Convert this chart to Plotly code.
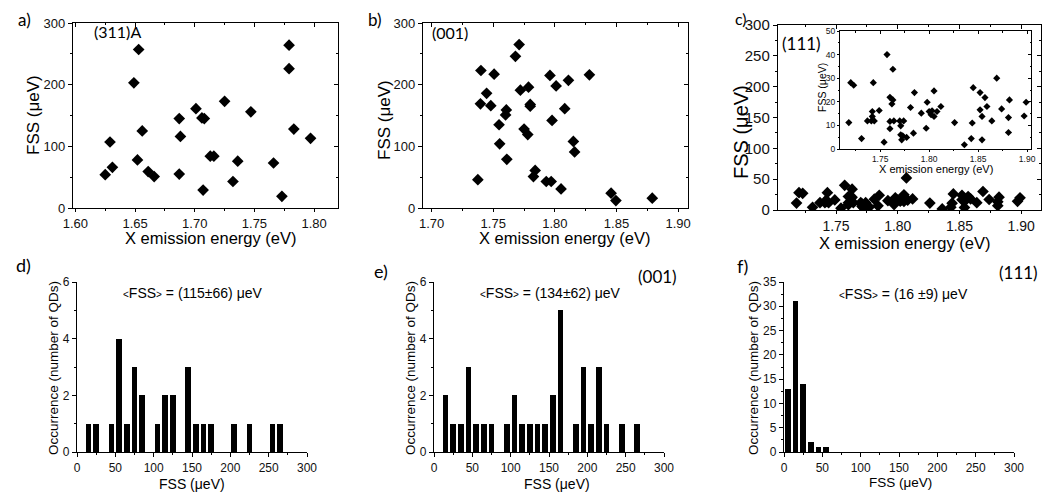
import plotly.graph_objects as go

# ---------------- data ----------------
a_energy = [1.625, 1.629, 1.631, 1.649, 1.653, 1.652, 1.656, 1.661, 1.666, 1.687, 1.688, 1.687, 1.701, 1.706,
            1.708, 1.707, 1.713, 1.716, 1.725, 1.732, 1.736, 1.747, 1.766, 1.773, 1.779, 1.779, 1.783, 1.797]
a_fss = [54, 107, 66, 203, 257, 78, 125, 59, 51, 145, 116, 55, 161, 146,
         145, 29, 84, 84, 173, 43, 76, 156, 73, 19, 264, 226, 128, 113]

b_energy = [1.7375, 1.740, 1.7396, 1.7446, 1.748, 1.7507, 1.7547, 1.7552, 1.7606, 1.760, 1.761, 1.768,
            1.771, 1.772, 1.775, 1.778, 1.7786, 1.780, 1.780, 1.7826, 1.784, 1.793, 1.796, 1.797,
            1.7977, 1.801, 1.805, 1.808, 1.811, 1.815, 1.816, 1.828, 1.8456, 1.8495, 1.879]
b_fss = [46, 223, 169, 186, 166, 217, 135, 104, 159, 151, 79, 246,
         265, 191, 128, 119, 196, 168, 165, 51, 61, 43, 215, 43,
         142, 198, 31, 161, 207, 108, 91, 216, 24, 12, 16]

c_energy = [1.718, 1.720, 1.723, 1.731, 1.737, 1.742, 1.742, 1.741, 1.743, 1.744, 1.749, 1.754, 1.757,
            1.760, 1.760, 1.760, 1.762, 1.763, 1.763, 1.764, 1.770, 1.771, 1.773, 1.771, 1.772, 1.774,
            1.777, 1.781, 1.784, 1.785, 1.792, 1.797, 1.798, 1.800, 1.802, 1.803, 1.805, 1.805, 1.808,
            1.812, 1.826, 1.836, 1.843, 1.844, 1.845, 1.852, 1.852, 1.854, 1.854, 1.857, 1.859, 1.864,
            1.869, 1.874, 1.881, 1.881, 1.882, 1.897, 1.899, 1.807]
c_fss = [11.2, 28.1, 27, 4.4, 11.9, 15.9, 13.8, 11.9, 28.1, 11.9, 16.3, 2.9, 40,
         11.7, 8.6, 21.9, 19.1, 20.8, 33.8, 11.9, 11.9, 9.8, 5.6, 6.0, 3.9, 11.9,
         4.9, 17.6, 6.7, 23.9, 15.2, 8.8, 19.8, 15.9, 14.5, 16.2, 24.6, 13.8, 15.9,
         18, 11.2, 1.8, 4.4, 11, 26, 23.9, 16.6, 13.8, 3.9, 21.8, 18, 11.9,
         30, 17, 13.3, 7, 20.8, 14, 19.8, 52]

d_bins = [15, 25, 45, 55, 65, 75, 85, 105, 115, 125, 145, 155, 165, 175, 205, 225, 255, 265]
d_counts = [1, 1, 1, 4, 1, 3, 2, 1, 2, 2, 3, 1, 1, 1, 1, 1, 1, 1]
e_bins = [15, 25, 35, 45, 55, 65, 75, 95, 105, 115, 125, 135, 145, 155, 165, 185, 195, 205, 215, 225, 245, 265]
e_counts = [2, 1, 1, 3, 1, 1, 1, 1, 2, 1, 1, 1, 1, 2, 5, 1, 3, 1, 3, 1, 1, 1]
f_bins = [5, 15, 25, 35, 45, 55]
f_counts = [13, 31, 14, 2, 1, 1]

# ---------------- layout helpers ----------------
# The page body adds an 8 px offset; the figure is sized so that the
# window-pixel coordinates used below line up with the reference.
OFF = 8
W, H = 1055 - OFF, 492 - OFF
ARIAL = "Liberation Sans, Arial, sans-serif"
CALIBRI = "Lato, Open Sans, sans-serif"


def px(x):
    return (x - OFF) / W


def py(y):
    return 1 - (y - OFF) / H


def dom_x(x0, x1):
    return [px(x0), px(x1)]


def dom_y(ytop, ybot):
    return [py(ybot), py(ytop)]


fig = go.Figure()

diamond = dict(symbol="diamond", color="black", size=9, line=dict(width=0))

fig.add_trace(go.Scatter(x=a_energy, y=a_fss, mode="markers", marker=diamond, xaxis="x", yaxis="y"))
fig.add_trace(go.Scatter(x=b_energy, y=b_fss, mode="markers", marker=diamond, xaxis="x2", yaxis="y2"))
fig.add_trace(go.Scatter(x=c_energy, y=c_fss, mode="markers", marker=diamond, xaxis="x3", yaxis="y3"))
fig.add_trace(go.Scatter(x=c_energy, y=c_fss, mode="markers",
                         marker=dict(symbol="diamond", color="black", size=5.5, line=dict(width=0)),
                         xaxis="x4", yaxis="y4"))
bar_style = dict(marker=dict(color="black", line=dict(width=0)), width=7.5)
fig.add_trace(go.Bar(x=d_bins, y=d_counts, xaxis="x5", yaxis="y5", **bar_style))
fig.add_trace(go.Bar(x=e_bins, y=e_counts, xaxis="x6", yaxis="y6", **bar_style))
fig.add_trace(go.Bar(x=f_bins, y=f_counts, xaxis="x7", yaxis="y7", **bar_style))

# empty traces to register mirror-tick overlay subplots
for xa, ya in [("x8", "y"), ("x9", "y2"), ("x10", "y3"), ("x11", "y4"),
               ("x", "y8"), ("x2", "y9"), ("x3", "y10"), ("x4", "y11")]:
    fig.add_trace(go.Scatter(x=[], y=[], xaxis=xa, yaxis=ya, hoverinfo="skip"))

LW = 1.4


def main_ax(domain, rng, dtick, minor, anchor, fs, fmt=None, tick0=0):
    d = dict(domain=domain, range=rng, anchor=anchor, showline=True, linecolor="black", linewidth=LW,
             mirror=True, ticks="outside", ticklen=4, tickwidth=1, tickcolor="black",
             tick0=tick0, dtick=dtick, showgrid=False, zeroline=False,
             minor=dict(ticks="outside", ticklen=2, dtick=minor, tick0=tick0, tickcolor="black"),
             tickfont=dict(family=ARIAL, size=fs, color="#111"), ticklabelstandoff=0)
    if fmt:
        d["tickformat"] = fmt
    return d


def mirror_ax(overlay, side, rng, dtick, minor, anchor, ln=4):
    return dict(overlaying=overlay, side=side, range=rng, anchor=anchor, showline=False,
                ticks="inside", ticklen=ln, tickwidth=1, tickcolor="black", tick0=0, dtick=dtick,
                showticklabels=False, showgrid=False, zeroline=False,
                minor=dict(ticks="inside", ticklen=ln / 2, dtick=minor, tick0=0, tickcolor="black"))


ra_x, rb_x, rc_x, ri_x = [1.598, 1.820], [1.693, 1.908], [1.703, 1.916], [1.709, 1.904]
top_row_a = dom_y(23, 208)
top_row_c = dom_y(25, 210)

layout = dict(
    width=W, height=H, margin=dict(l=0, r=0, t=0, b=0, pad=0, autoexpand=False), showlegend=False,
    paper_bgcolor="white", plot_bgcolor="white", bargap=0,
    xaxis=main_ax(dom_x(73, 338), ra_x, 0.05, 0.025, "y", 13, ".2f"),
    yaxis=main_ax(top_row_a, [0, 300], 100, 50, "x", 13),
    xaxis2=main_ax(dom_x(423, 688), rb_x, 0.05, 0.025, "y2", 13, ".2f"),
    yaxis2=main_ax(top_row_a, [0, 300], 100, 50, "x2", 13),
    xaxis3=main_ax(dom_x(778, 1041), rc_x, 0.05, 0.025, "y3", 14, ".2f"),
    yaxis3=main_ax(top_row_c, [0, 300], 50, 25, "x3", 15),
    xaxis4=main_ax(dom_x(840, 1031), ri_x, 0.05, 0.025, "y4", 8.5, ".2f"),
    yaxis4=main_ax(dom_y(31, 149), [0, 50], 10, 5, "x4", 8.5),
    xaxis8=mirror_ax("x", "top", ra_x, 0.05, 0.025, "y"),
    xaxis9=mirror_ax("x2", "top", rb_x, 0.05, 0.025, "y2"),
    xaxis10=mirror_ax("x3", "top", rc_x, 0.05, 0.025, "y3"),
    xaxis11=mirror_ax("x4", "top", ri_x, 0.05, 0.025, "y4", 3),
    yaxis8=mirror_ax("y", "right", [0, 300], 100, 50, "x"),
    yaxis9=mirror_ax("y2", "right", [0, 300], 100, 50, "x2"),
    yaxis10=mirror_ax("y3", "right", [0, 300], 50, 25, "x3"),
    yaxis11=mirror_ax("y4", "right", [0, 50], 10, 5, "x4", 3),
)
for k in ["xaxis", "xaxis2", "xaxis3"]:
    layout[k]["ticklen"] = 3
for k in ["xaxis4", "yaxis4"]:
    layout[k]["ticklen"] = 2
    layout[k]["minor"]["ticklen"] = 1
    layout[k]["linewidth"] = 1


def hist_ax(domain, rng, dtick, minor, anchor):
    return dict(domain=domain, range=rng, anchor=anchor, showline=True, linecolor="black", linewidth=LW,
                mirror=False, ticks="outside", ticklen=4, tickwidth=1, tickcolor="black",
                tick0=0, dtick=dtick, showgrid=False, zeroline=False,
                minor=dict(ticks="outside", ticklen=2, dtick=minor, tick0=0, tickcolor="black"),
                tickfont=dict(family=ARIAL, size=12, color="#111"), ticklabelstandoff=0)


hist_y = dom_y(282, 452)
layout["xaxis5"] = hist_ax(dom_x(77, 307), [0, 300], 50, 25, "y5")
layout["yaxis5"] = hist_ax(hist_y, [0, 6], 2, 1, "x5")
layout["xaxis6"] = hist_ax(dom_x(434, 664), [0, 300], 50, 25, "y6")
layout["yaxis6"] = hist_ax(hist_y, [0, 6], 2, 1, "x6")
layout["xaxis7"] = hist_ax(dom_x(784, 1014), [0, 300], 50, 25, "y7")
layout["yaxis7"] = hist_ax(hist_y, [0, 35], 5, 2.5, "x7")

fig.update_layout(**layout)


def note(x, y, text, size, family=ARIAL, angle=0, xanchor="center", yanchor="middle"):
    fig.add_annotation(x=px(x), y=py(y), xref="paper", yref="paper", text=text, showarrow=False,
                       textangle=angle, xanchor=xanchor, yanchor=yanchor, borderpad=0,
                       font=dict(family=family, size=size, color="black"))


# panel letters
note(24, 8.5, "a)", 17, CALIBRI, yanchor="top")
note(375, 8.5, "b)", 17, CALIBRI, yanchor="top")
note(741, 8.5, "c)", 16, CALIBRI, yanchor="top")
note(23, 265, "d)", 18, CALIBRI)
note(381, 271, "e)", 18, CALIBRI)
note(742, 266, "f)", 18, CALIBRI)

# sample labels
note(117, 31, "(311)A", 16, CALIBRI)
note(450, 33, "(001)", 16, CALIBRI)
note(801, 43, "(111)", 17, CALIBRI)
note(657, 276, "(001)", 17, CALIBRI)
note(1018, 272, "(111)", 17, CALIBRI)

# axis titles, top row
note(211, 238, "X emission energy (eV)", 16.5)
note(565, 238, "X emission energy (eV)", 16.5)
note(905, 243, "X emission energy (eV)", 16.5)
note(33, 115, "FSS (μeV)", 17, angle=-90)
note(384, 120, "FSS (μeV)", 17, angle=-90)
note(741, 132, "FSS (μeV)", 20, angle=-90)
note(936, 168.5, "X emission energy (eV)", 11)
note(822, 88, "FSS (μeV)", 10.5, angle=-90)

# histogram titles
for xc in (53, 410, 753):
    note(xc, 368, "Occurrence (number of QDs)", 13.5, angle=-90)
note(192, 484, "FSS (μeV)", 14)
note(557, 484, "FSS (μeV)", 14)
note(900, 482, "FSS (μeV)", 13.5)

lt = "<span style='font-size:10px'>&lt;</span>"
gt = "<span style='font-size:10px'>&gt;</span>"
note(193, 293, lt + "FSS" + gt + " = (115±66) μeV", 14)
note(550, 293, lt + "FSS" + gt + " = (134±62) μeV", 14)
note(903, 294, lt + "FSS" + gt + " = (16 ±9) μeV", 14)

fig.write_html("out.html")
